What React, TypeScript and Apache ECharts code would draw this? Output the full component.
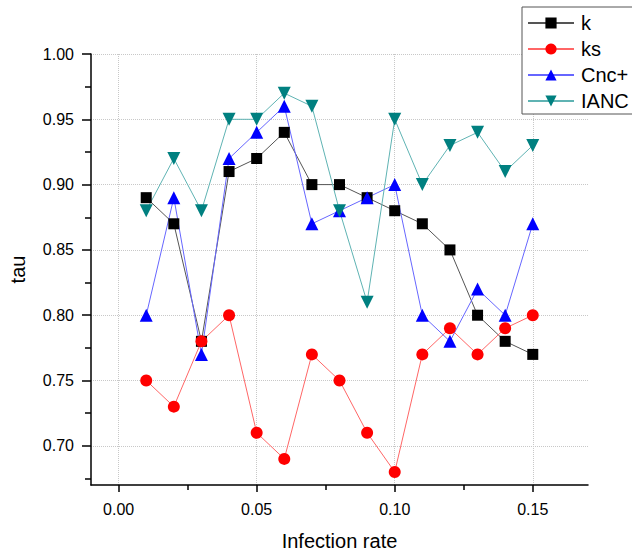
import React, { useEffect, useRef } from "react";
import * as echarts from "echarts";

const rates = [0.01, 0.02, 0.03, 0.04, 0.05, 0.06, 0.07, 0.08, 0.09, 0.1, 0.11, 0.12, 0.13, 0.14, 0.15];
const kValues = [0.89, 0.87, 0.78, 0.91, 0.92, 0.94, 0.9, 0.9, 0.89, 0.88, 0.87, 0.85, 0.8, 0.78, 0.77];
const ksValues = [0.75, 0.73, 0.78, 0.8, 0.71, 0.69, 0.77, 0.75, 0.71, 0.68, 0.77, 0.79, 0.77, 0.79, 0.8];
const cncValues = [0.8, 0.89, 0.77, 0.92, 0.94, 0.96, 0.87, 0.88, 0.89, 0.9, 0.8, 0.78, 0.82, 0.8, 0.87];
const iancValues = [0.88, 0.92, 0.88, 0.95, 0.95, 0.97, 0.96, 0.88, 0.81, 0.95, 0.9, 0.93, 0.94, 0.91, 0.93];

const xMajorTicks = [0, 0.05, 0.1, 0.15];
const xMinorTicks = [0.025, 0.075, 0.125];
const yMajorTicks = [0.7, 0.75, 0.8, 0.85, 0.9, 0.95, 1.0];
const yMinorTicks = [0.675, 0.725, 0.775, 0.825, 0.875, 0.925, 0.975];

const FONT = "'Liberation Sans', Arial, sans-serif";

function pairs(ys: number[]) {
  return rates.map((x, i) => [x, ys[i]]);
}

export default function App() {
  const ref = useRef<HTMLDivElement>(null);
  useEffect(() => {
    if (!ref.current) return;
    const chart = echarts.init(ref.current, undefined, { renderer: "svg" });
    const gridLine = { show: true, lineStyle: { color: "#c8c8c8", type: "dotted", width: 1 } };
    const xBase = { type: "value", min: -0.01, max: 0.17, position: "bottom", gridIndex: 0 };
    const yBase = { type: "value", min: 0.67, max: 1.0, position: "left", gridIndex: 0 };
    chart.setOption({
      animation: false,
      backgroundColor: "#fff",
      textStyle: { fontFamily: FONT },
      grid: { left: 89, right: 44, top: 54, bottom: 71 },
      legend: {
        orient: "vertical",
        left: 522,
        top: 7,
        padding: [6, 12, 3, 5],
        itemWidth: 46,
        itemHeight: 14,
        itemGap: 6,
        borderColor: "#555",
        borderWidth: 1,
        backgroundColor: "#fff",
        textStyle: { fontSize: 20, color: "#000", fontFamily: FONT, padding: [0, 0, 0, 2] },
        data: ["k", "ks", "Cnc+", "IANC"],
      },
      xAxis: [
        {
          ...xBase,
          axisLine: { show: true, onZero: false, lineStyle: { color: "#000", width: 1.5 } },
          axisTick: { show: true, customValues: xMajorTicks, length: 7, lineStyle: { color: "#000", width: 1.5 } },
          axisLabel: {
            customValues: xMajorTicks,
            formatter: (v: number) => v.toFixed(2),
            fontSize: 16,
            color: "#000",
            margin: 16,
            fontFamily: FONT,
          },
          splitLine: gridLine,
          name: "Infection rate",
          nameLocation: "middle",
          nameGap: 46,
          nameTextStyle: { fontSize: 20, color: "#000", fontFamily: FONT },
        },
        {
          ...xBase,
          axisLine: { show: false, onZero: false },
          axisTick: { show: true, customValues: xMinorTicks, length: 5, lineStyle: { color: "#000", width: 1.5 } },
          axisLabel: { show: false },
          splitLine: { show: false },
        },
      ],
      yAxis: [
        {
          ...yBase,
          axisLine: { show: true, onZero: false, lineStyle: { color: "#000", width: 1.5 } },
          axisTick: { show: true, customValues: yMajorTicks, length: 9, lineStyle: { color: "#000", width: 1.5 } },
          axisLabel: {
            customValues: yMajorTicks,
            formatter: (v: number) => v.toFixed(2),
            fontSize: 16,
            color: "#000",
            margin: 17,
            fontFamily: FONT,
          },
          splitLine: gridLine,
          name: "tau",
          nameLocation: "middle",
          nameGap: 63,
          nameTextStyle: { fontSize: 20, color: "#000", fontFamily: FONT },
        },
        {
          ...yBase,
          axisLine: { show: false, onZero: false },
          axisTick: { show: true, customValues: yMinorTicks, length: 6, lineStyle: { color: "#000", width: 1.5 } },
          axisLabel: { show: false },
          splitLine: { show: false },
        },
      ],
      series: [
        {
          name: "k",
          type: "line",
          data: pairs(kValues),
          symbol: "rect",
          symbolSize: 11,
          itemStyle: { color: "#000" },
          lineStyle: { color: "#555", width: 1 },
        },
        {
          name: "ks",
          type: "line",
          data: pairs(ksValues),
          symbol: "circle",
          symbolSize: 12,
          itemStyle: { color: "#ff0000" },
          lineStyle: { color: "#ff6666", width: 1 },
        },
        {
          name: "Cnc+",
          type: "line",
          data: pairs(cncValues),
          symbol: "triangle",
          symbolSize: 13,
          itemStyle: { color: "#0000ff" },
          lineStyle: { color: "#6666ff", width: 1 },
        },
        {
          name: "IANC",
          type: "line",
          data: pairs(iancValues),
          symbol: "triangle",
          symbolRotate: 180,
          symbolSize: 13,
          itemStyle: { color: "#008080" },
          lineStyle: { color: "#5fb3b3", width: 1 },
        },
      ],
    });
    return () => chart.dispose();
  }, []);
  return (
    <div
      ref={ref}
      style={{ position: "absolute", left: 0, top: 0, width: 632, height: 556 }}
    />
  );
}
